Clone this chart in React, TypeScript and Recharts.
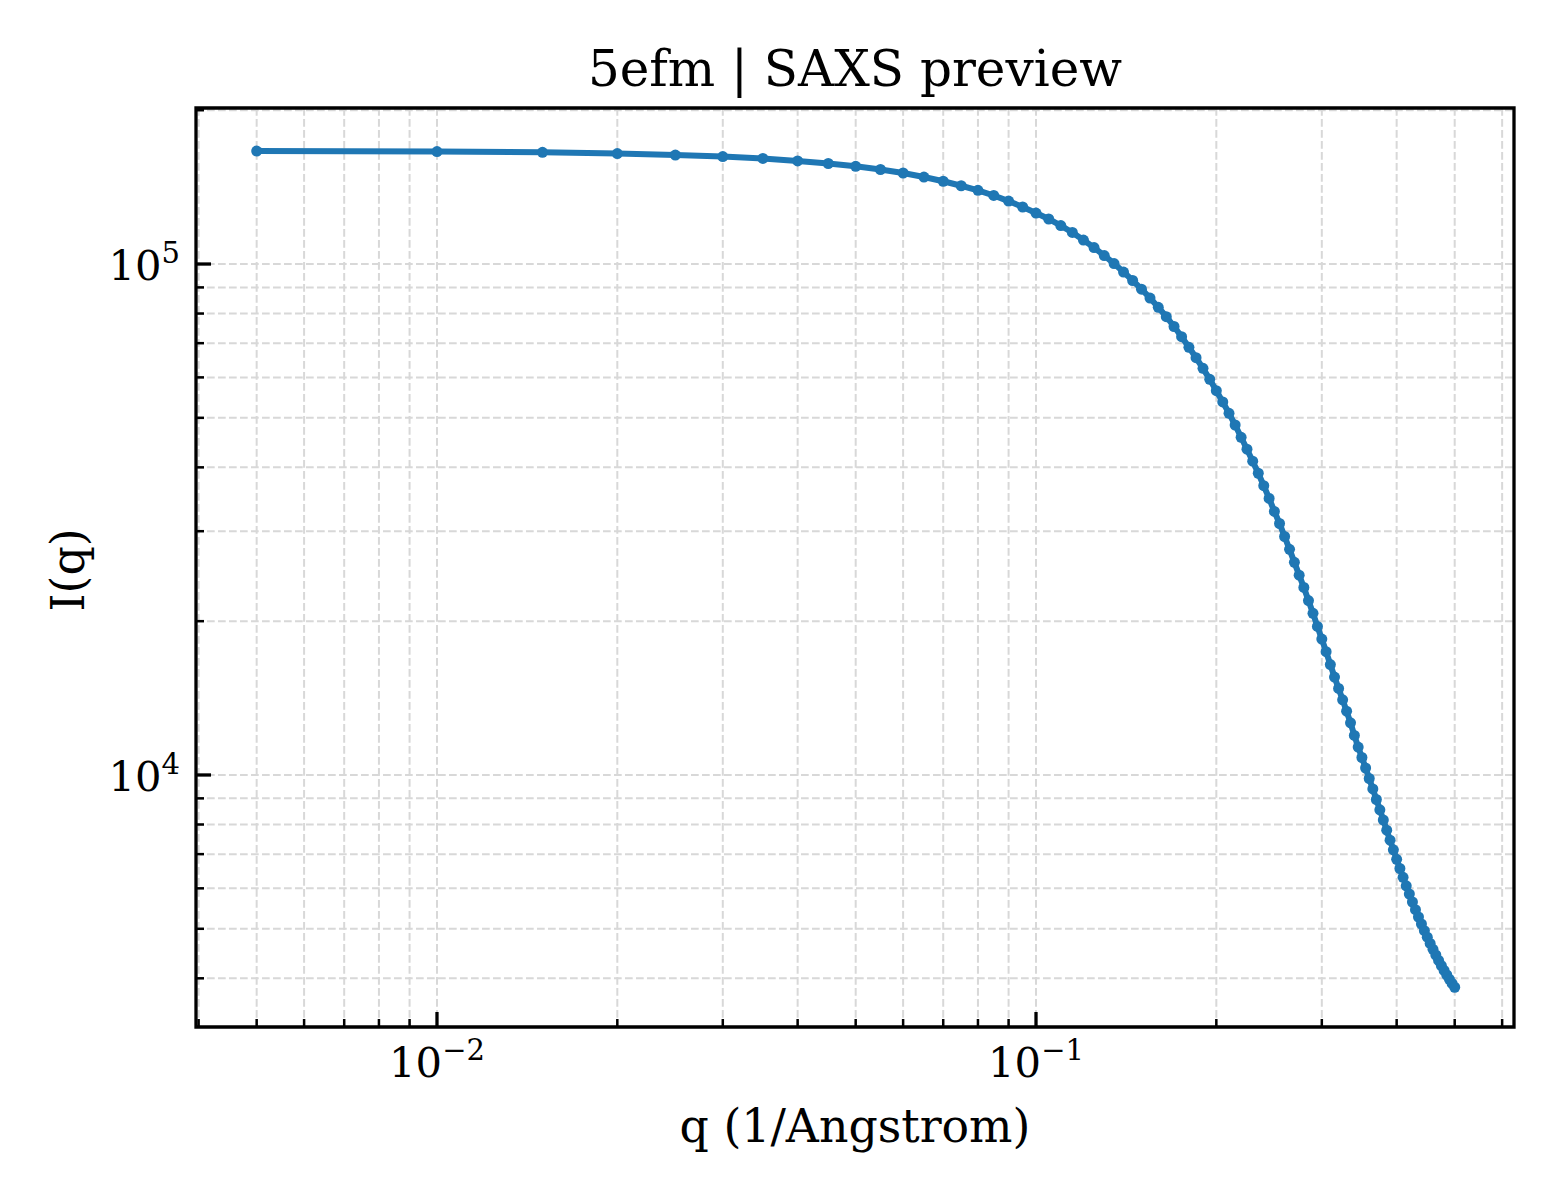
/**
 * SaxsPreview — log-log SAXS intensity curve, matplotlib-style frame.
 */
import React from "react";
import { LineChart, Line, XAxis, YAxis, CartesianGrid, ReferenceArea } from "recharts";

const Q = [
  0.005, 0.01, 0.015, 0.02, 0.025, 0.03, 0.035, 0.04, 0.045, 0.05,
  0.055, 0.06, 0.065, 0.07, 0.075, 0.08, 0.085, 0.09, 0.095, 0.1,
  0.105, 0.11, 0.115, 0.12, 0.125, 0.13, 0.135, 0.14, 0.145, 0.15,
  0.155, 0.16, 0.165, 0.17, 0.175, 0.18, 0.185, 0.19, 0.195, 0.2,
  0.205, 0.21, 0.215, 0.22, 0.225, 0.23, 0.235, 0.24, 0.245, 0.25,
  0.255, 0.26, 0.265, 0.27, 0.275, 0.28, 0.285, 0.29, 0.295, 0.3,
  0.305, 0.31, 0.315, 0.32, 0.325, 0.33, 0.335, 0.34, 0.345, 0.35,
  0.355, 0.36, 0.365, 0.37, 0.375, 0.38, 0.385, 0.39, 0.395, 0.4,
  0.405, 0.41, 0.415, 0.42, 0.425, 0.43, 0.435, 0.44, 0.445, 0.45,
  0.455, 0.46, 0.465, 0.47, 0.475, 0.48, 0.485, 0.49, 0.495, 0.5,
];

const INTENSITY = [
  166400, 166000, 165400, 164500, 163400, 162300, 160900, 159100, 157300, 155300,
  153100, 150700, 148000, 145200, 142300, 139400, 136200, 132800, 129300, 125800,
  122500, 118900, 115300, 111400, 107700, 103900, 100200, 96460, 92840, 89270,
  85790, 82280, 78860, 75460, 72070, 68710, 65560, 62500, 59480, 56500,
  53720, 51030, 48410, 45800, 43410, 41130, 38950, 36830, 34780, 32790,
  31060, 29290, 27640, 26070, 24610, 23280, 21950, 20720, 19530, 18450,
  17430, 16450, 15550, 14770, 14030, 13330, 12650, 11950, 11340, 10820,
  10320, 9843, 9389, 8954, 8548, 8164, 7797, 7453, 7138, 6839,
  6561, 6306, 6069, 5849, 5642, 5449, 5273, 5109, 4957, 4814,
  4681, 4558, 4443, 4336, 4237, 4145, 4060, 3981, 3908, 3842,
];

const X_TICKS = [
  0.004, 0.005, 0.006, 0.007, 0.008, 0.009, 0.01,
  0.02, 0.03, 0.04, 0.05, 0.06, 0.07, 0.08, 0.09, 0.1,
  0.2, 0.3, 0.4, 0.5, 0.6,
];
const X_MAJOR = [0.01, 0.1];
const X_MAJOR_EXP = ["\u22122", "\u22121"];

const Y_TICKS = [
  4000, 5000, 6000, 7000, 8000, 9000, 10000,
  20000, 30000, 40000, 50000, 60000, 70000, 80000, 90000, 100000,
  200000,
];
const Y_MAJOR = [10000, 100000];
const Y_MAJOR_EXP = ["4", "5"];

const X_DOMAIN = [0.00396, 0.628];
const Y_DOMAIN = [3212, 202000];

const FONT = "'DejaVu Serif', serif";
const BLUE = "#1f77b4";

const data = Q.map((q, i) => ({ q, I: INTENSITY[i] }));

function majorIndex(list: number[], v: number) {
  return list.findIndex((m) => Math.abs(m - v) / m < 1e-6);
}

function XTick(props: any) {
  const { x, y, payload } = props;
  const idx = majorIndex(X_MAJOR, payload.value);
  const major = idx >= 0;
  return (
    <g>
      <line
        x1={x}
        x2={x}
        y1={y}
        y2={y - (major ? 15 : 8)}
        stroke="#000"
        strokeWidth={major ? 3.3 : 2.5}
      />
      {major && (
        <text x={x} y={y + 50} textAnchor="middle" fontFamily={FONT} fontSize={41.7} fill="#000">
          10
          <tspan dy={-17} fontSize={29}>
            {X_MAJOR_EXP[idx]}
          </tspan>
        </text>
      )}
    </g>
  );
}

function YTick(props: any) {
  const { x, y, payload } = props;
  const idx = majorIndex(Y_MAJOR, payload.value);
  const major = idx >= 0;
  return (
    <g>
      <line
        x1={x}
        x2={x + (major ? 15 : 8)}
        y1={y}
        y2={y}
        stroke="#000"
        strokeWidth={major ? 3.3 : 2.5}
      />
      {major && (
        <text x={x - 16} y={y + 16} textAnchor="end" fontFamily={FONT} fontSize={41.7} fill="#000">
          10
          <tspan dy={-17} fontSize={29}>
            {Y_MAJOR_EXP[idx]}
          </tspan>
        </text>
      )}
    </g>
  );
}

export default function App() {
  return (
    <div style={{ position: "absolute", left: 0, top: 0, width: 1560, height: 1200, background: "#fff" }}>
      <LineChart
        width={1560}
        height={1200}
        data={data}
        margin={{ top: 108, right: 46, left: 0, bottom: 0 }}
      >
        <CartesianGrid stroke="#d8d8d8" strokeWidth={2} strokeDasharray="7.7 3.3" />
        <XAxis
          type="number"
          dataKey="q"
          scale="log"
          domain={X_DOMAIN}
          allowDataOverflow
          ticks={X_TICKS}
          interval={0}
          tick={(p: any) => <XTick {...p} />}
          tickLine={false}
          axisLine={false}
          tickSize={0}
          tickMargin={0}
          height={173}
        />
        <YAxis
          type="number"
          scale="log"
          domain={Y_DOMAIN}
          allowDataOverflow
          ticks={Y_TICKS}
          interval={0}
          tick={(p: any) => <YTick {...p} />}
          tickLine={false}
          axisLine={false}
          tickSize={0}
          tickMargin={0}
          width={196}
        />
        <ReferenceArea
          x1={X_DOMAIN[0]}
          x2={X_DOMAIN[1]}
          y1={Y_DOMAIN[0]}
          y2={Y_DOMAIN[1]}
          fill="none"
          fillOpacity={0}
          stroke="#000"
          strokeWidth={3.3}
          ifOverflow="visible"
        />
        <Line
          type="linear"
          dataKey="I"
          stroke={BLUE}
          strokeWidth={6}
          dot={{ r: 5.5, fill: BLUE, stroke: "none" }}
          activeDot={false}
          isAnimationActive={false}
        />
      </LineChart>
      <svg
        width={1560}
        height={1200}
        style={{ position: "absolute", left: 0, top: 0, pointerEvents: "none" }}
      >
        <text x={855} y={86} textAnchor="middle" fontFamily={FONT} fontSize={50} fill="#000">
          5efm | SAXS preview
        </text>
        <text x={855} y={1142} textAnchor="middle" fontFamily={FONT} fontSize={45.8} fill="#000">
          q (1/Angstrom)
        </text>
        <text
          transform="translate(83.5,570) rotate(-90)"
          textAnchor="middle"
          fontFamily={FONT}
          fontSize={45.8}
          fill="#000"
        >
          I(q)
        </text>
      </svg>
    </div>
  );
}
